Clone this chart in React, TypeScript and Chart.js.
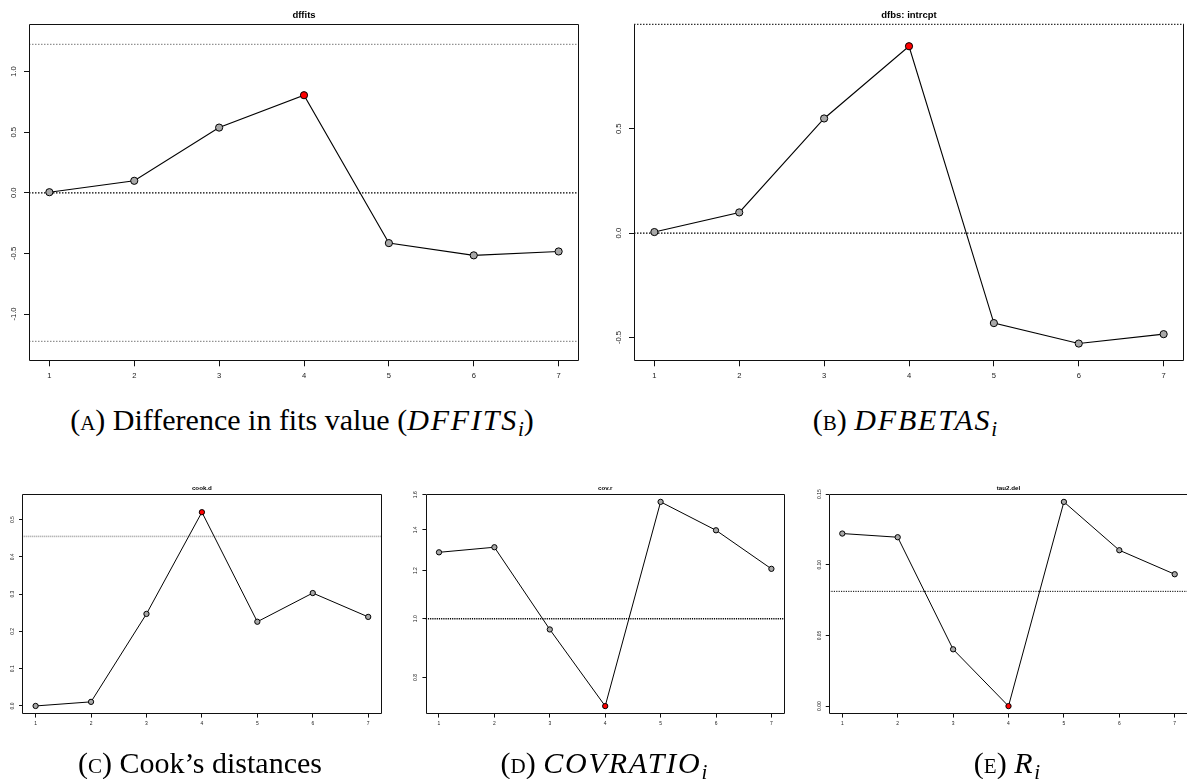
import React, { useEffect, useRef } from "react";
import { Chart, registerables } from "chart.js";

Chart.register(...registerables);
Chart.defaults.font.family = '"Liberation Sans", Arial, sans-serif';

// ---------- data ----------
const obsIndex = [1, 2, 3, 4, 5, 6, 7];
const obsLabels = ["1", "2", "3", "4", "5", "6", "7"];
const influential = [false, false, false, true, false, false, false];

const dffitsValues = [0.005, 0.099, 0.538, 0.805, -0.415, -0.516, -0.484];
const dfbetasValues = [0.005, 0.099, 0.549, 0.895, -0.431, -0.529, -0.484];
const cookValues = [0.0, 0.011, 0.247, 0.52, 0.226, 0.303, 0.239];
const covRatioValues = [1.286, 1.311, 0.96, 0.718, 1.557, 1.398, 1.208];
const tau2DelValues = [0.1221, 0.1195, 0.0402, 0.0, 0.1445, 0.1103, 0.0933];

const dffitsTicks = [-1, -0.5, 0, 0.5, 1];
const dffitsTickLabels = ["-1.0", "-0.5", "0.0", "0.5", "1.0"];
const dfbetasTicks = [-0.5, 0, 0.5];
const dfbetasTickLabels = ["-0.5", "0.0", "0.5"];
const cookTicks = [0, 0.1, 0.2, 0.3, 0.4, 0.5];
const cookTickLabels = ["0.0", "0.1", "0.2", "0.3", "0.4", "0.5"];
const covRatioTicks = [0.8, 1.0, 1.2, 1.4, 1.6];
const covRatioTickLabels = ["0.8", "1.0", "1.2", "1.4", "1.6"];
const tau2Ticks = [0, 0.05, 0.1, 0.15];
const tau2TickLabels = ["0.00", "0.05", "0.10", "0.15"];

const dffitsCutoffs = [1.225, -1.225];
const dfbetasCutoffs = [1];
const cookCutoffs = [0.455];
const covRatioRefs = [1];
const tau2Refs = [0.0812];
const zeroRefs = [0];

// ---------- panel specs ----------
type RefLine = { value: number; color: string; width: number; dash: number[] };
type Spec = {
  key: string;
  title: string;
  values: number[];
  yTicks: number[];
  yTickLabels: string[];
  yMin: number;
  yMax: number;
  log?: boolean;
  refs: RefLine[];
  skipTop?: boolean;
  frame: { left: number; top: number; width: number; height: number };
  box: { l: number; r: number; t: number; b: number };
  s: number;
};

const dotGray = (v: number): RefLine => ({ value: v, color: "#777", width: 1, dash: [1.5, 1.5] });
const dotBlack = (v: number, w = 1.3): RefLine => ({ value: v, color: "#000", width: w, dash: [1.5, 1.5] });

const SMALL = 0.653;

const specs: Spec[] = [
  {
    key: "a",
    title: "dffits",
    values: dffitsValues,
    yTicks: dffitsTicks,
    yTickLabels: dffitsTickLabels,
    yMin: -1.39,
    yMax: 1.39,
    refs: [...dffitsCutoffs.map(dotGray), ...zeroRefs.map((v) => dotBlack(v))],
    frame: { left: 0, top: 0, width: 600, height: 400 },
    box: { l: 29, r: 579, t: 24.3, b: 361.3 },
    s: 1,
  },
  {
    key: "b",
    title: "dfbs: intrcpt",
    values: dfbetasValues,
    yTicks: dfbetasTicks,
    yTickLabels: dfbetasTickLabels,
    yMin: -0.614,
    yMax: 1.0,
    refs: [...zeroRefs.map((v) => dotBlack(v)), ...dfbetasCutoffs.map((v) => dotBlack(v, 1))],
    skipTop: true,
    frame: { left: 600, top: 0, width: 587, height: 400 },
    box: { l: 634, r: 1184, t: 24.3, b: 361.3 },
    s: 1,
  },
  {
    key: "c",
    title: "cook.d",
    values: cookValues,
    yTicks: cookTicks,
    yTickLabels: cookTickLabels,
    yMin: -0.0224,
    yMax: 0.5696,
    refs: cookCutoffs.map((v) => ({ value: v, color: "#999", width: 1.6, dash: [1, 1] })),
    frame: { left: 0, top: 450, width: 400, height: 300 },
    box: { l: 22.3, r: 381.5, t: 493.7, b: 714.3 },
    s: SMALL,
  },
  {
    key: "d",
    title: "cov.r",
    values: covRatioValues,
    yTicks: covRatioTicks,
    yTickLabels: covRatioTickLabels,
    yMin: 0.696,
    yMax: 1.606,
    log: true,
    refs: covRatioRefs.map((v) => ({ value: v, color: "#000", width: 1.4, dash: [1.2, 1] })),
    frame: { left: 400, top: 450, width: 400, height: 300 },
    box: { l: 425.7, r: 784.7, t: 493.7, b: 714.3 },
    s: SMALL,
  },
  {
    key: "e",
    title: "tau2.del",
    values: tau2DelValues,
    yTicks: tau2Ticks,
    yTickLabels: tau2TickLabels,
    yMin: -0.0058,
    yMax: 0.1503,
    refs: tau2Refs.map((v) => ({ value: v, color: "#000", width: 1, dash: [1.2, 1.2] })),
    frame: { left: 805, top: 450, width: 400, height: 300 },
    box: { l: 829, r: 1188, t: 493.7, b: 714.3 },
    s: SMALL,
  },
];

const FONT = '"Liberation Sans", Arial, sans-serif';

function Panel({ spec }: { spec: Spec }) {
  const ref = useRef<HTMLCanvasElement>(null);
  useEffect(() => {
    const canvas = ref.current!;
    const { frame, box, s } = spec;

    const decor = {
      id: "rdecor_" + spec.key,
      beforeDatasetsDraw(chart: any) {
        const { ctx, chartArea: a, scales } = chart;
        const y = scales.y;
        ctx.save();
        for (const r of spec.refs) {
          const py = y.getPixelForValue(r.value);
          ctx.strokeStyle = r.color;
          ctx.lineWidth = r.width;
          ctx.setLineDash(r.dash);
          ctx.beginPath();
          ctx.moveTo(a.left, py);
          ctx.lineTo(a.right, py);
          ctx.stroke();
        }
        ctx.restore();
      },
      afterDraw(chart: any) {
        const { ctx, chartArea: a, scales } = chart;
        const x = scales.x;
        const y = scales.y;
        ctx.save();
        // box
        const L = Math.round(a.left) + 0.5;
        const R = Math.round(a.right) - 0.5;
        const T = Math.round(a.top) + 0.5;
        const B = Math.round(a.bottom) - 0.5;
        ctx.strokeStyle = "#111";
        ctx.lineWidth = 1;
        ctx.setLineDash([]);
        ctx.beginPath();
        if (spec.skipTop) {
          ctx.moveTo(L, T);
          ctx.lineTo(L, B);
          ctx.lineTo(R, B);
          ctx.lineTo(R, T);
        } else {
          ctx.rect(L, T, R - L, B - T);
        }
        ctx.stroke();
        // title
        ctx.fillStyle = "#000";
        ctx.font = `bold ${9.5 * s}px ${FONT}`;
        ctx.textAlign = "center";
        ctx.textBaseline = "middle";
        ctx.fillText(spec.title, (a.left + a.right) / 2, a.top - 9 * s);
        // tick labels
        ctx.fillStyle = "#1a1a1a";
        ctx.font = `${7.6 * s}px ${FONT}`;
        x.ticks.forEach((t: any, i: number) => {
          const px = x.getPixelForValue(t.value);
          ctx.fillText(obsLabels[i], px, a.bottom + 15 * s);
        });
        y.ticks.forEach((t: any, i: number) => {
          const py = y.getPixelForValue(t.value);
          ctx.save();
          ctx.translate(a.left - 15 * s, py);
          ctx.rotate(-Math.PI / 2);
          ctx.fillText(spec.yTickLabels[i], 0, 0);
          ctx.restore();
        });
        ctx.restore();
      },
    };

    const radius = 3.6 * s + (s < 1 ? 0.3 : 0);
    const chart = new Chart(canvas, {
      type: "line",
      data: {
        datasets: [
          {
            data: obsIndex.map((xv, i) => ({ x: xv, y: spec.values[i] })),
            borderColor: "#000",
            borderWidth: s < 1 ? 1 : 1.1,
            tension: 0,
            fill: false,
            clip: false as any,
            pointRadius: radius,
            pointHoverRadius: radius,
            pointBackgroundColor: influential.map((f) => (f ? "#ff0000" : "#a8a8a8")),
            pointBorderColor: "#000",
            pointBorderWidth: 1,
          },
        ],
      },
      options: {
        responsive: false,
        animation: false,
        events: [],
        layout: {
          autoPadding: false,
          padding: {
            left: 0,
            bottom: 0,
            top: box.t - frame.top,
            right: frame.left + frame.width - box.r,
          },
        },
        plugins: {
          legend: { display: false },
          tooltip: { enabled: false },
          title: { display: false },
        },
        scales: {
          x: {
            type: "linear",
            min: 0.76,
            max: 7.24,
            afterBuildTicks: (sc: any) => {
              sc.ticks = obsIndex.map((v) => ({ value: v }));
            },
            afterFit: (sc: any) => {
              sc.height = frame.top + frame.height - box.b;
            },
            ticks: { display: false },
            grid: { drawOnChartArea: false, drawTicks: true, tickLength: 5 * s, color: "#111", lineWidth: 1 },
            border: { display: false },
          },
          y: {
            type: spec.log ? "logarithmic" : "linear",
            min: spec.yMin,
            max: spec.yMax,
            afterBuildTicks: (sc: any) => {
              sc.ticks = spec.yTicks.map((v) => ({ value: v }));
            },
            afterFit: (sc: any) => {
              sc.width = box.l - frame.left;
            },
            ticks: { display: false },
            grid: { drawOnChartArea: false, drawTicks: true, tickLength: 5 * s, color: "#111", lineWidth: 1 },
            border: { display: false },
          },
        } as any,
      },
      plugins: [decor],
    });
    return () => chart.destroy();
  }, [spec]);

  return (
    <canvas
      ref={ref}
      width={spec.frame.width}
      height={spec.frame.height}
      style={{
        position: "absolute",
        left: spec.frame.left,
        top: spec.frame.top,
        width: spec.frame.width,
        height: spec.frame.height,
      }}
    />
  );
}

const captionStyle = (center: number, top: number): React.CSSProperties => ({
  position: "absolute",
  left: center - 300,
  width: 600,
  top,
  textAlign: "center",
  fontFamily: '"Liberation Serif", "Times New Roman", serif',
  fontSize: 30,
  lineHeight: "30px",
  whiteSpace: "nowrap",
  color: "#000",
});

const Sc = ({ c }: { c: string }) => <span style={{ fontVariant: "small-caps" }}>{c}</span>;
const MathIt = ({ c }: { c: string }) => <i style={{ letterSpacing: "0.06em" }}>{c}</i>;
const Sub = ({ c }: { c: string }) => (
  <span style={{ fontSize: "0.7em", fontStyle: "italic", position: "relative", top: "0.3em" }}>{c}</span>
);

export default function App() {
  return (
    <div
      style={{
        position: "absolute",
        left: 0,
        top: 0,
        width: 1187,
        height: 779,
        overflow: "hidden",
        background: "#fff",
      }}
    >
      {specs.map((sp) => (
        <Panel key={sp.key} spec={sp} />
      ))}
      <div style={captionStyle(302, 404.9)}>
        (<Sc c="a" />) Difference in fits value (<MathIt c="DFFITS" />
        <Sub c="i" />)
      </div>
      <div style={captionStyle(905, 404.9)}>
        (<Sc c="b" />) <MathIt c="DFBETAS" />
        <Sub c="i" />
      </div>
      <div style={captionStyle(200, 747.9)}>
        (<Sc c="c" />) Cook’s distances
      </div>
      <div style={captionStyle(604, 747.9)}>
        (<Sc c="d" />) <MathIt c="COVRATIO" />
        <Sub c="i" />
      </div>
      <div style={captionStyle(1007, 747.9)}>
        (<Sc c="e" />) <MathIt c="R" />
        <Sub c="i" />
      </div>
    </div>
  );
}
